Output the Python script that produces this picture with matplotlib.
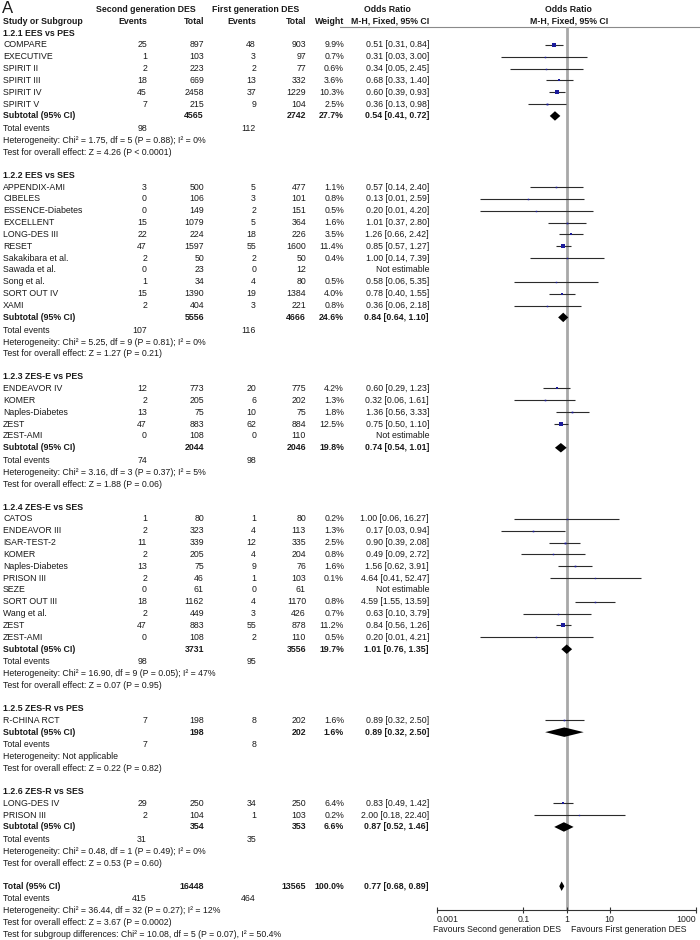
import matplotlib
matplotlib.use("Agg")
import matplotlib.pyplot as plt

plt.rcParams['font.family'] = ['Liberation Sans', 'DejaVu Sans']

# subgroups
groups = ["1.2.1 EES vs PES", "1.2.2 EES vs SES", "1.2.3 ZES-E vs PES",
          "1.2.4 ZES-E vs SES", "1.2.5 ZES-R vs PES", "1.2.6 ZES-R vs SES"]
group_sizes = [6, 11, 5, 11, 1, 2]

# studies (None = not estimable)
studies = ["COMPARE", "EXECUTIVE", "SPIRIT II", "SPIRIT III", "SPIRIT IV", "SPIRIT V",
           "APPENDIX-AMI", "CIBELES", "ESSENCE-Diabetes", "EXCELLENT", "LONG-DES III", "RESET",
           "Sakakibara et al.", "Sawada et al.", "Song et al.", "SORT OUT IV", "XAMI",
           "ENDEAVOR IV", "KOMER", "Naples-Diabetes", "ZEST", "ZEST-AMI",
           "CATOS", "ENDEAVOR III", "ISAR-TEST-2", "KOMER", "Naples-Diabetes", "PRISON III",
           "SEZE", "SORT OUT III", "Wang et al.", "ZEST", "ZEST-AMI",
           "R-CHINA RCT",
           "LONG-DES IV", "PRISON III"]
ev2 = [25, 1, 2, 18, 45, 7,
       3, 0, 0, 15, 22, 47, 2, 0, 1, 15, 2,
       12, 2, 13, 47, 0,
       1, 2, 11, 2, 13, 2, 0, 18, 2, 47, 0,
       7,
       29, 2]
tot2 = [897, 103, 223, 669, 2458, 215,
        500, 106, 149, 1079, 224, 1597, 50, 23, 34, 1390, 404,
        773, 205, 75, 883, 108,
        80, 323, 339, 205, 75, 46, 61, 1162, 449, 883, 108,
        198,
        250, 104]
ev1 = [48, 3, 2, 13, 37, 9,
       5, 3, 2, 5, 18, 55, 2, 0, 4, 19, 3,
       20, 6, 10, 62, 0,
       1, 4, 12, 4, 9, 1, 0, 4, 3, 55, 2,
       8,
       34, 1]
tot1 = [903, 97, 77, 332, 1229, 104,
        477, 101, 151, 364, 226, 1600, 50, 12, 80, 1384, 221,
        775, 202, 75, 884, 110,
        80, 113, 335, 204, 76, 103, 61, 1170, 426, 878, 110,
        202,
        250, 103]
weight = [9.9, 0.7, 0.6, 3.6, 10.3, 2.5,
          1.1, 0.8, 0.5, 1.6, 3.5, 11.4, 0.4, None, 0.5, 4.0, 0.8,
          4.2, 1.3, 1.8, 12.5, None,
          0.2, 1.3, 2.5, 0.8, 1.6, 0.1, None, 0.8, 0.7, 11.2, 0.5,
          1.6,
          6.4, 0.2]
odds = [0.51, 0.31, 0.34, 0.68, 0.60, 0.36,
        0.57, 0.13, 0.20, 1.01, 1.26, 0.85, 1.00, None, 0.58, 0.78, 0.36,
        0.60, 0.32, 1.36, 0.75, None,
        1.00, 0.17, 0.90, 0.49, 1.56, 4.64, None, 4.59, 0.63, 0.84, 0.20,
        0.89,
        0.83, 2.00]
ci_lo = [0.31, 0.03, 0.05, 0.33, 0.39, 0.13,
         0.14, 0.01, 0.01, 0.37, 0.66, 0.57, 0.14, None, 0.06, 0.40, 0.06,
         0.29, 0.06, 0.56, 0.50, None,
         0.06, 0.03, 0.39, 0.09, 0.62, 0.41, None, 1.55, 0.10, 0.56, 0.01,
         0.32,
         0.49, 0.18]
ci_hi = [0.84, 3.00, 2.45, 1.40, 0.93, 0.98,
         2.40, 2.59, 4.20, 2.80, 2.42, 1.27, 7.39, None, 5.35, 1.55, 2.18,
         1.23, 1.61, 3.33, 1.10, None,
         16.27, 0.94, 2.08, 2.72, 3.91, 52.47, None, 13.59, 3.79, 1.26, 4.21,
         2.50,
         1.42, 22.40]

# subtotals
sub_tot2 = [4565, 5556, 2044, 3731, 198, 354]
sub_tot1 = [2742, 4666, 2046, 3556, 202, 353]
sub_weight = [27.7, 24.6, 19.8, 19.7, 1.6, 6.6]
sub_or = [0.54, 0.84, 0.74, 1.01, 0.89, 0.87]
sub_lo = [0.41, 0.64, 0.54, 0.76, 0.32, 0.52]
sub_hi = [0.72, 1.10, 1.01, 1.35, 2.50, 1.46]
sub_ev2 = [98, 107, 74, 98, 7, 31]
sub_ev1 = [112, 116, 98, 95, 8, 35]
sub_het = ["Heterogeneity: Chi² = 1.75, df = 5 (P = 0.88); I² = 0%",
           "Heterogeneity: Chi² = 5.25, df = 9 (P = 0.81); I² = 0%",
           "Heterogeneity: Chi² = 3.16, df = 3 (P = 0.37); I² = 5%",
           "Heterogeneity: Chi² = 16.90, df = 9 (P = 0.05); I² = 47%",
           "Heterogeneity: Not applicable",
           "Heterogeneity: Chi² = 0.48, df = 1 (P = 0.49); I² = 0%"]
sub_test = ["Test for overall effect: Z = 4.26 (P < 0.0001)",
            "Test for overall effect: Z = 1.27 (P = 0.21)",
            "Test for overall effect: Z = 1.88 (P = 0.06)",
            "Test for overall effect: Z = 0.07 (P = 0.95)",
            "Test for overall effect: Z = 0.22 (P = 0.82)",
            "Test for overall effect: Z = 0.53 (P = 0.60)"]

# overall
total_n = [16448, 13565]
total_ev = [415, 464]
total_est = [0.77, 0.68, 0.89]
total_lines = ["Heterogeneity: Chi² = 36.44, df = 32 (P = 0.27); I² = 12%",
               "Test for overall effect: Z = 3.67 (P = 0.0002)",
               "Test for subgroup differences: Chi² = 10.08, df = 5 (P = 0.07), I² = 50.4%"]

W, H = 700, 940
Y0, DY = 33, 11.85   # pixel y of first row, row pitch


def row(px):
    return (px - Y0) / DY


fig = plt.figure(figsize=(W / 100, H / 100), dpi=100)
tax = fig.add_axes([0, 0, 1, 1])
tax.set_xlim(0, W)
tax.set_ylim(row(H), row(0))
tax.axis("off")

plot_l, plot_r, plot_top, plot_bot = 437, 696, 26.5, 910
fax = fig.add_axes([plot_l / W, 1 - plot_bot / H, (plot_r - plot_l) / W, (plot_bot - plot_top) / H])
fax.set_xscale("log")
fax.set_xlim(0.001, 1000)
fax.set_ylim(row(plot_bot), row(plot_top))
fax.patch.set_alpha(0)
for s in ["left", "right", "top"]:
    fax.spines[s].set_visible(False)
fax.spines["bottom"].set_color("#333333")
fax.spines["bottom"].set_linewidth(0.8)
fax.set_yticks([])
fax.set_xticks([0.001, 0.1, 1, 10, 1000])
fax.set_xticklabels(["0.001", "0.1", "1", "10", "1000"])
fax.minorticks_off()
fax.tick_params(axis="x", direction="inout", length=5, width=0.8, color="#333333",
                labelsize=6.3, pad=1, labelcolor="#222222")
lbls = fax.get_xticklabels()
lbls[0].set_ha("left")
lbls[-1].set_ha("right")
fax.axvline(1, color="#a8a8a8", lw=2, zorder=0)

TC = "#1a1a1a"
FS = 6.3
X_NAME, X_E2, X_T2, X_E1, X_T1, X_W, X_OR = 3, 147, 204, 256, 306, 344, 429


def txt(x, r, s, ha="left", bold=False):
    tax.text(x, r, s, ha=ha, va="center", fontsize=FS, color=TC,
             fontweight="bold" if bold else "normal")


# header
tax.text(2, row(8.5), "A", ha="left", va="center", fontsize=12, color=TC)
txt(146, row(9), "Second generation DES", ha="center", bold=True)
txt(256, row(9), "First generation DES", ha="center", bold=True)
txt(387, row(9), "Odds Ratio", ha="center", bold=True)
txt(568, row(9), "Odds Ratio", ha="center", bold=True)
hr = row(21)
txt(X_NAME, hr, "Study or Subgroup", bold=True)
txt(X_E2, hr, "Events", ha="right", bold=True)
txt(X_T2, hr, "Total", ha="right", bold=True)
txt(X_E1, hr, "Events", ha="right", bold=True)
txt(X_T1, hr, "Total", ha="right", bold=True)
txt(X_W, hr, "Weight", ha="right", bold=True)
txt(X_OR, hr, "M-H, Fixed, 95% CI", ha="right", bold=True)
txt(569, hr, "M-H, Fixed, 95% CI", ha="center", bold=True)
tax.plot([340, W], [row(26.5), row(26.5)], color="#8a8a8a", lw=0.8)

DIA_H = 0.4


def diamond(r, est, lo, hi):
    fax.fill([lo, est, hi, est], [r, r - DIA_H, r, r + DIA_H], color="black", lw=0, zorder=3)


r = 0
i = 0
for g, n in enumerate(group_sizes):
    txt(X_NAME, r, groups[g], bold=True)
    r += 1
    for _ in range(n):
        txt(X_NAME, r, studies[i])
        txt(X_E2, r, str(ev2[i]), ha="right")
        txt(X_T2, r, str(tot2[i]), ha="right")
        txt(X_E1, r, str(ev1[i]), ha="right")
        txt(X_T1, r, str(tot1[i]), ha="right")
        if odds[i] is None:
            txt(X_OR, r, "Not estimable", ha="right")
        else:
            txt(X_W, r, f"{weight[i]:.1f}%", ha="right")
            txt(X_OR, r, f"{odds[i]:.2f} [{ci_lo[i]:.2f}, {ci_hi[i]:.2f}]", ha="right")
            fax.hlines(r, ci_lo[i], ci_hi[i], color="#2b2b2b", lw=0.8, zorder=2)
            fax.plot(odds[i], r, marker="s", ms=(1.3 + 0.22 * weight[i]) * 0.72,
                     color="#1c1c9c", mew=0, zorder=3)
        r += 1
        i += 1
    txt(X_NAME, r, "Subtotal (95% CI)", bold=True)
    txt(X_T2, r, str(sub_tot2[g]), ha="right", bold=True)
    txt(X_T1, r, str(sub_tot1[g]), ha="right", bold=True)
    txt(X_W, r, f"{sub_weight[g]:.1f}%", ha="right", bold=True)
    txt(X_OR, r, f"{sub_or[g]:.2f} [{sub_lo[g]:.2f}, {sub_hi[g]:.2f}]", ha="right", bold=True)
    diamond(r, sub_or[g], sub_lo[g], sub_hi[g])
    r += 1
    txt(X_NAME, r + 0.08, "Total events")
    txt(X_E2, r + 0.08, str(sub_ev2[g]), ha="right")
    txt(X_E1, r + 0.08, str(sub_ev1[g]), ha="right")
    r += 1
    txt(X_NAME, r + 0.08, sub_het[g])
    r += 1
    txt(X_NAME, r + 0.08, sub_test[g])
    r += 2

txt(X_NAME, r, "Total (95% CI)", bold=True)
txt(X_T2, r, str(total_n[0]), ha="right", bold=True)
txt(X_T1, r, str(total_n[1]), ha="right", bold=True)
txt(X_W, r, "100.0%", ha="right", bold=True)
txt(X_OR, r, f"{total_est[0]:.2f} [{total_est[1]:.2f}, {total_est[2]:.2f}]", ha="right", bold=True)
diamond(r, *total_est)
r += 1
txt(X_NAME, r + 0.08, "Total events")
txt(X_E2, r + 0.08, str(total_ev[0]), ha="right")
txt(X_E1, r + 0.08, str(total_ev[1]), ha="right")
for line in total_lines:
    r += 1
    txt(X_NAME, r + 0.08, line)

txt(561, row(929), "Favours Second generation DES", ha="right")
txt(571, row(929), "Favours First generation DES", ha="left")

fig.savefig("out.png", dpi=100, facecolor="white")
